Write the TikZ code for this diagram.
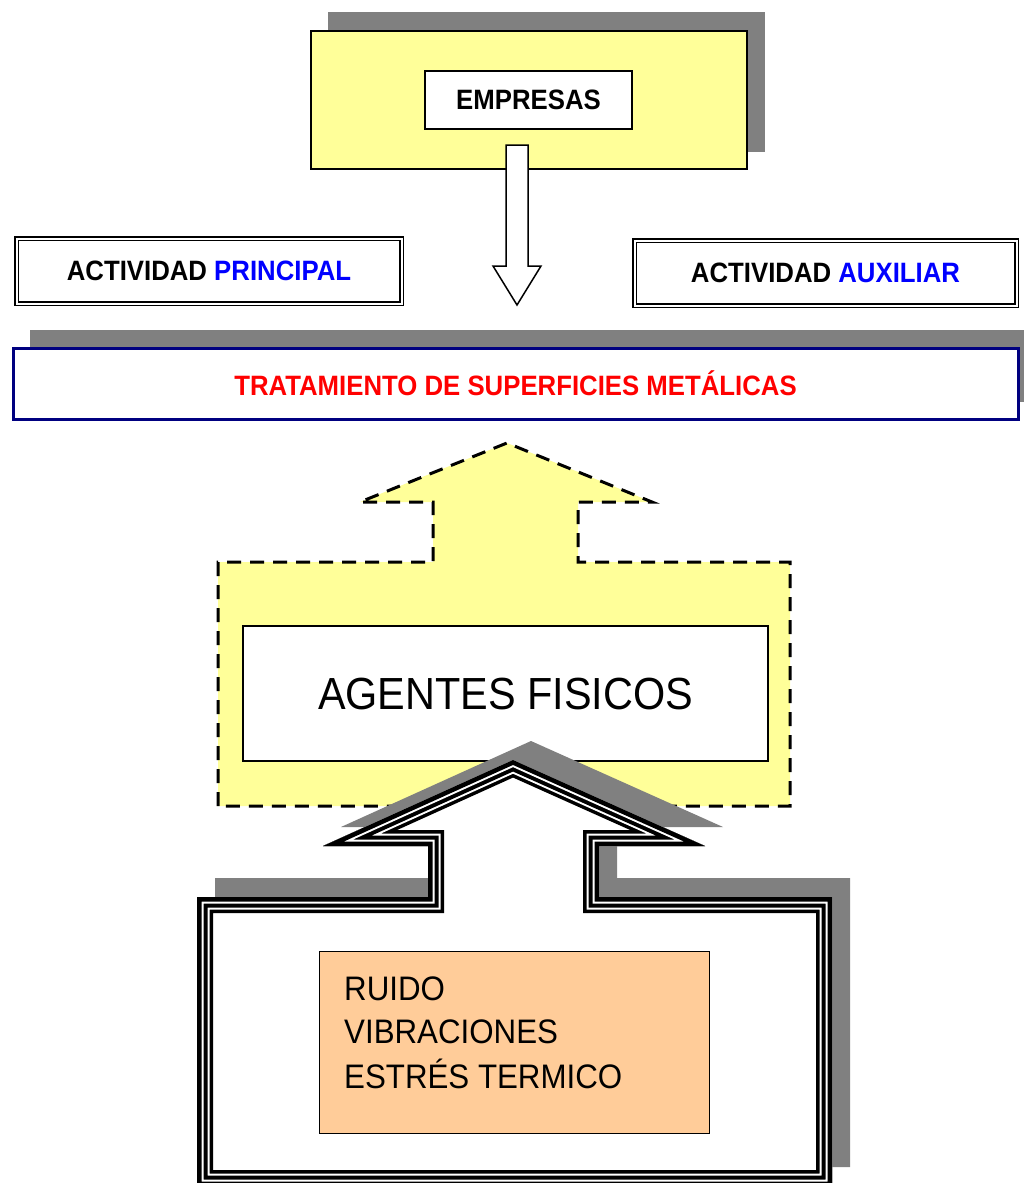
\documentclass[tikz,border=0pt]{standalone}
\usepackage{fontspec}
\setmainfont{Liberation Sans}
\newfontfamily\bfnarrow{Liberation Sans Bold}[FakeStretch=0.92]
\newfontfamily\rgnarrow{Liberation Sans}[FakeStretch=0.92]
\definecolor{lyellow}{HTML}{FFFF99}
\definecolor{shadowgray}{HTML}{808080}
\definecolor{navyline}{HTML}{000080}
\definecolor{txtred}{HTML}{FF0000}
\definecolor{txtblue}{HTML}{0000FF}
\definecolor{lorange}{HTML}{FFCC99}
\newcommand\arrpoly[1]{#1 (197,1186) -- (197,897) -- (428,897) -- (428,846) -- (323,846) -- (513,760) -- (705,846) -- (599,846) -- (599,897) -- (832,897) -- (832,1186) -- cycle;}
\tikzset{
  boldtxt/.style={font=\bfnarrow\fontsize{28}{30}\selectfont},
  dblbox/.style={draw=black, double=white, double distance=2pt, line width=1.5pt, fill=white, boldtxt},
  plainbox/.style={draw=black, fill=white},
  shadowfill/.style={fill=shadowgray},
  listtxt/.style={font=\rgnarrow\fontsize{34}{44}\selectfont, anchor=base west, inner sep=0pt}
}
\begin{document}
\begin{tikzpicture}[x=1pt, y=-1pt, line join=miter]
\useasboundingbox[fill=white] (0,0) rectangle (1023,1183);

% ---- top: EMPRESAS
\fill[shadowfill] (328,12) rectangle (765,152);
\node[draw=black, line width=1.5pt, fill=lyellow, minimum width=436pt, minimum height=138pt] (top) at (529,100) {};
\node[plainbox, line width=1.2pt, minimum width=207pt, minimum height=58pt, boldtxt] (emp) at (528.5,100) {EMPRESAS};
\coordinate (arrtop) at (517,145);
\filldraw[fill=white, draw=black, line width=1.5pt]
  (506,145) -- (528,145) -- (528,266) -- (541,266) -- (517,305) -- (493,266) -- (506,266) -- cycle;

% ---- actividad boxes
\node[dblbox, minimum width=385pt, minimum height=65pt] (princ) at (209,271) {ACTIVIDAD \textcolor{txtblue}{PRINCIPAL}};
\node[dblbox, minimum width=382pt, minimum height=65pt] (aux) at (825.5,273) {ACTIVIDAD \textcolor{txtblue}{AUXILIAR}};

% ---- tratamiento
\fill[shadowfill] (30,330) rectangle (1036,402);
\node[draw=navyline, line width=3pt, fill=white, minimum width=1005pt, minimum height=71pt, boldtxt, text=txtred] (trat) at (515.5,383.5) {TRATAMIENTO DE SUPERFICIES METÁLICAS};

% ---- dashed yellow up arrow
\filldraw[fill=lyellow, draw=black, line width=3pt, dash pattern=on 14pt off 9pt]
  (218,806) -- (218,562) -- (433,562) -- (433,502) -- (360,502) -- (507,443) -- (652,502) -- (578,502) -- (578,562) -- (790,562) -- (790,806) -- cycle;
\node[plainbox, line width=1.3pt, minimum width=525pt, minimum height=135pt, font=\rgnarrow\fontsize{45}{50}\selectfont] (agentes) at (505.5,693.5) {AGENTES FISICOS};

% ---- bottom triple-lined arrow box
\begin{scope}[xshift=18pt, yshift=19pt]
\arrpoly{\fill[shadowfill]}
\end{scope}
\arrpoly{\fill[white]}
\begin{scope}
\arrpoly{\clip}
\arrpoly{\draw[black, line width=32pt, miter limit=20]}
\arrpoly{\draw[white, line width=25pt, miter limit=20]}
\arrpoly{\draw[black, line width=21pt, miter limit=20]}
\arrpoly{\draw[white, line width=13pt, miter limit=20]}
\arrpoly{\draw[black, line width=9pt, miter limit=20]}
\end{scope}

\node[draw=black, line width=1pt, fill=lorange, minimum width=390pt, minimum height=182pt] (haz) at (514,1042) {};
\node[listtxt] (l1) at (344,1000) {RUIDO};
\node[listtxt] (l2) at (344,1043) {VIBRACIONES};
\node[listtxt] (l3) at (344,1088) {ESTRÉS TERMICO};
\end{tikzpicture}
\end{document}
